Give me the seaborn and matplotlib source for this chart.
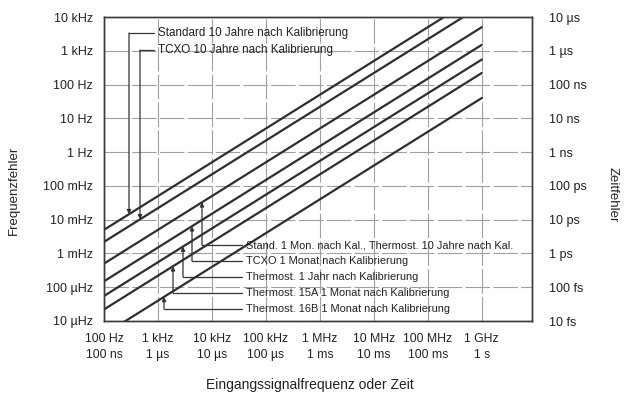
import numpy as np
import pandas as pd
import matplotlib
matplotlib.use("Agg")
import matplotlib.pyplot as plt
from matplotlib.ticker import NullLocator
import seaborn as sns

# ---------------- data ----------------
labels = [
    "Standard 10 Jahre nach Kalibrierung",
    "TCXO 10 Jahre nach Kalibrierung",
    "Stand. 1 Mon. nach Kal., Thermost. 10 Jahre nach Kal.",
    "TCXO 1 Monat nach Kalibrierung",
    "Thermost. 1 Jahr nach Kalibrierung",
    "Thermost. 15A 1 Monat nach Kalibrierung",
    "Thermost. 16B 1 Monat nach Kalibrierung",
]
f_end = [1e2, 1e9]                                   # Hz, line end points
err_100Hz = [5e-3, 2.2e-3, 5e-4, 1.5e-4, 5.5e-5, 2.2e-5, 4e-6]   # Hz
err_1GHz = [5e4, 2.2e4, 5e3, 1.5e3, 5.5e2, 2.2e2, 40]           # Hz

x_ticks = [1e2, 1e3, 1e4, 1e5, 1e6, 1e7, 1e8, 1e9]
freq_labels = ["100 Hz", "1 kHz", "10 kHz", "100 kHz", "1 MHz", "10 MHz", "100 MHz", "1 GHz"]
time_labels = ["100 ns", "1 µs", "10 µs", "100 µs", "1 ms", "10 ms", "100 ms", "1 s"]
y_ticks = [1e-5, 1e-4, 1e-3, 1e-2, 1e-1, 1e0, 1e1, 1e2, 1e3, 1e4]
y_labels = ["10 µHz", "100 µHz", "1 mHz", "10 mHz", "100 mHz", "1 Hz", "10 Hz", "100 Hz", "1 kHz", "10 kHz"]
t_ticks = [1e-14, 1e-13, 1e-12, 1e-11, 1e-10, 1e-9, 1e-8, 1e-7, 1e-6, 1e-5]
t_labels = ["10 fs", "100 fs", "1 ps", "10 ps", "100 ps", "1 ns", "10 ns", "100 ns", "1 µs", "10 µs"]

rows = []
for i, lab in enumerate(labels):
    rows.append({"series": lab, "f": f_end[0], "err": err_100Hz[i]})
    rows.append({"series": lab, "f": f_end[1], "err": err_1GHz[i]})
df = pd.DataFrame(rows)

# ---------------- style ----------------
sns.set_theme(style="white")
plt.rcParams["font.family"] = ["Liberation Sans", "DejaVu Sans"]
TXT = "#222222"
LINE = "#2e2e2e"

W, H = 634, 397
AX_L, AX_T, AX_R, AX_B = 104, 17, 532, 321
XL = (2.0, 9.93)
YL = (-5.0, 4.0)

fig = plt.figure(figsize=(W / 100, H / 100), dpi=100)
ax = fig.add_axes([AX_L / W, 1 - AX_B / H, (AX_R - AX_L) / W, (AX_B - AX_T) / H])

sns.lineplot(data=df, x="f", y="err", hue="series", palette=[LINE] * len(labels),
             legend=False, linewidth=1.6, ax=ax, estimator=None, sort=False)
ax.set_xscale("log")
ax.set_yscale("log")
ax.set_xlim(10 ** XL[0], 10 ** XL[1])
ax.set_ylim(10 ** YL[0], 10 ** YL[1])
ax.set_xticks(x_ticks)
ax.set_xticklabels([f"{a}\n{b}" for a, b in zip(freq_labels, time_labels)], fontsize=8.8,
                   color=TXT, linespacing=1.35)
ax.set_yticks(y_ticks)
ax.set_yticklabels(y_labels, fontsize=9, color=TXT)
ax.xaxis.set_minor_locator(NullLocator())
ax.yaxis.set_minor_locator(NullLocator())
ax.tick_params(axis="both", length=0)
ax.tick_params(axis="x", pad=9)
ax.tick_params(axis="y", pad=8)
ax.set_xlabel("")
ax.set_ylabel("")
ax.grid(True, color="#a0a0a0", lw=0.8, ls=(0, (22, 3)))
for s in ax.spines.values():
    s.set_color("#3a3a3a")
    s.set_linewidth(1.0)

ax2 = ax.twinx()
ax2.set_yscale("log")
ax2.set_ylim(t_ticks[0], t_ticks[-1])
ax2.set_yticks(t_ticks)
ax2.set_yticklabels(t_labels, fontsize=9, color=TXT)
ax2.yaxis.set_minor_locator(NullLocator())
ax2.tick_params(axis="y", length=0, pad=12)
ax2.grid(False)
for s in ax2.spines.values():
    s.set_color("#3a3a3a")
    s.set_linewidth(1.0)


def px(x, y):
    fx = 10 ** (XL[0] + (x - AX_L) / (AX_R - AX_L) * (XL[1] - XL[0]))
    fy = 10 ** (YL[1] - (y - AX_T) / (AX_B - AX_T) * (YL[1] - YL[0]))
    return fx, fy


def line_at(i, f):
    return 10 ** np.interp(np.log10(f), np.log10(f_end), [np.log10(err_100Hz[i]), np.log10(err_1GHz[i])])


# (series index, text x px, text y px, corner x px)
callouts = [
    (0, 158, 33, 129),
    (1, 158, 50, 140),
    (2, 246, 245, 202),
    (3, 246, 261, 192),
    (4, 246, 277, 183),
    (5, 246, 293, 173),
    (6, 246, 309, 164),
]
for i, tx, ty, cx in callouts:
    x_text, y_text = px(tx, ty)
    fs = 8.4 if i < 2 else 7.9
    ax.text(x_text, y_text, labels[i], fontsize=fs, color=TXT, ha="left", va="center")
    x_lead_end, _ = px(tx - 4, ty)
    x_corner, _ = px(cx, ty)
    ax.plot([x_lead_end, x_corner], [y_text, y_text], color="#333333", lw=0.9)
    tip = line_at(i, x_corner)
    ax.annotate("", xy=(x_corner, tip), xytext=(x_corner, y_text),
                arrowprops=dict(arrowstyle="-|>", color="#333333", lw=0.9,
                                mutation_scale=6, shrinkA=0, shrinkB=0))

fig.text(14 / W, 1 - 190 / H, "Frequenzfehler", rotation=90, fontsize=9.5, color=TXT,
         ha="center", va="center")
fig.text(613 / W, 1 - 195 / H, "Zeitfehler", rotation=270, fontsize=9.5, color=TXT,
         ha="center", va="center")
fig.text(310 / W, 1 - 385 / H, "Eingangssignalfrequenz oder Zeit", fontsize=10, color=TXT,
         ha="center", va="center")

fig.savefig("out.png", dpi=100, facecolor="white")
